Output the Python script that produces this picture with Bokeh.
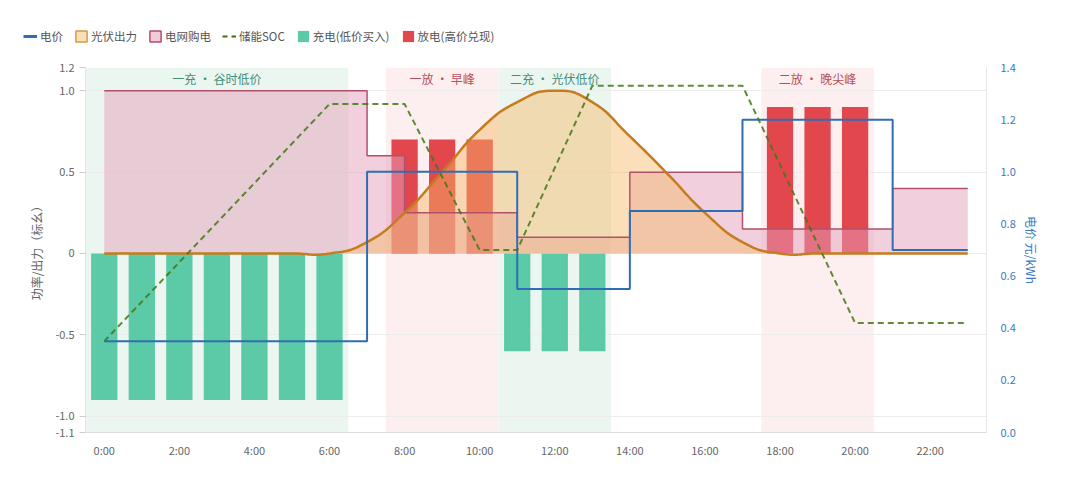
import numpy as np
from bokeh.plotting import figure
from bokeh.models import (Range1d, LinearAxis, FixedTicker, Legend, LegendItem,
                          NumeralTickFormatter)
from bokeh.embed import file_html
from bokeh.resources import INLINE
from bokeh.core.properties import value

FONT = "Noto Sans CJK SC"

# ---------------- data ----------------
hours = [0, 1, 2, 3, 4, 5, 6, 7, 8, 9, 10, 11, 12, 13, 14, 15, 16, 17, 18, 19, 20, 21, 22, 23]
x_tick_hours = [0, 2, 4, 6, 8, 10, 12, 14, 16, 18, 20, 22]
x_tick_labels = ["0:00", "2:00", "4:00", "6:00", "8:00", "10:00", "12:00",
                 "14:00", "16:00", "18:00", "20:00", "22:00"]

# electricity price (yuan/kWh), right axis
price = [0.35, 0.35, 0.35, 0.35, 0.35, 0.35, 0.35,
         1.0, 1.0, 1.0, 1.0,
         0.55, 0.55, 0.55,
         0.85, 0.85, 0.85,
         1.2, 1.2, 1.2, 1.2,
         0.70, 0.70, 0.70]

# grid purchase (p.u.)
grid_buy = [1.0, 1.0, 1.0, 1.0, 1.0, 1.0, 1.0,
            0.6,
            0.25, 0.25, 0.25,
            0.1, 0.1, 0.1,
            0.5, 0.5, 0.5,
            0.15, 0.15, 0.15, 0.15,
            0.4, 0.4, 0.4]

# PV output (p.u.)
pv_output = [0, 0, 0, 0, 0, 0, 0, 0.07, 0.25, 0.5, 0.76, 0.93, 1.0, 0.93,
             0.72, 0.49, 0.25, 0.07, 0, 0, 0, 0, 0, 0]

# battery charging (negative) / discharging (positive)
charge_hours = [0, 1, 2, 3, 4, 5, 6, 11, 12, 13]
charge_power = [-0.9, -0.9, -0.9, -0.9, -0.9, -0.9, -0.9, -0.6, -0.6, -0.6]
discharge_hours = [8, 9, 10, 18, 19, 20]
discharge_power = [0.7, 0.7, 0.7, 0.9, 0.9, 0.9]

# state of charge (%), hidden axis
soc_hours = [0, 6, 8, 10, 11, 13, 17, 20, 23]
soc_pct = [25, 90, 90, 50, 50, 95, 95, 30, 30]

# shaded periods
band_from = [0, 8, 11, 18]
band_to = [6, 10, 13, 20]
band_labels = ["一充 · 谷时低价", "一放 · 早峰", "二充 · 光伏低价", "二放 · 晚尖峰"]
band_kind = ["charge", "discharge", "charge", "discharge"]

left_ticks = [-1.1, -1.0, -0.5, 0, 0.5, 1.0, 1.143]
left_tick_labels = ["-1.1", "-1.0", "-0.5", "0", "0.5", "1.0", "1.2"]
price_ticks = [0.0, 0.2, 0.4, 0.6, 0.8, 1.0, 1.2, 1.4]

legend_labels = ["电价", "光伏出力", "电网购电", "储能SOC", "充电(低价买入)", "放电(高价兑现)"]

# ---------------- styles ----------------
C_PRICE = "#2f6db5"
C_PV_LINE = "#c47c1e"
C_PV_FILL = "#f3b865"
C_GRID_LINE = "#b0506b"
C_GRID_FILL = "#e3a0b9"
C_SOC = "#427815"
C_CHARGE = "#5cc9a7"
C_DISCHARGE = "#e3474e"
BAND_FILL = {"charge": "#ebf6f1", "discharge": "#fdefef"}
BAND_TEXT = {"charge": "#3f8f78", "discharge": "#b5505e"}

Y_MIN, Y_MAX = left_ticks[0], left_ticks[-1]


def smooth_path(xs, ys, k=0.25, steps=16):
    """Render helper: cubic Bezier smoothing through the given points
    (same idea as a 'smooth' line option)."""
    px, py = [], []
    n = len(xs)
    ts = np.linspace(0.0, 1.0, steps + 1)
    for i in range(n - 1):
        x0, y0 = xs[i], ys[i]
        x1, y1 = xs[i + 1], ys[i + 1]
        xp, yp = xs[max(i - 1, 0)], ys[max(i - 1, 0)]
        xn, yn = xs[min(i + 2, n - 1)], ys[min(i + 2, n - 1)]
        c0x, c0y = x0 + (x1 - xp) * k, y0 + (y1 - yp) * k
        c1x, c1y = x1 - (xn - x0) * k, y1 - (yn - y0) * k
        tt = ts if i == n - 2 else ts[:-1]
        for t in tt:
            a = (1 - t) ** 3
            b = 3 * (1 - t) ** 2 * t
            c = 3 * (1 - t) * t ** 2
            d = t ** 3
            px.append(a * x0 + b * c0x + c * c1x + d * x1)
            py.append(a * y0 + b * c0y + c * c1y + d * y1)
    return px, py


# ---------------- main chart ----------------
p = figure(width=1080, height=438,
           x_range=Range1d(-0.5, 23.5), y_range=Range1d(Y_MIN, Y_MAX),
           output_backend="svg", toolbar_location=None,
           min_border_left=85, min_border_right=94,
           min_border_top=19, min_border_bottom=54,
           background_fill_color="white", border_fill_color="white",
           outline_line_color=None)
p.extra_y_ranges = {"price": Range1d(0, 1.4), "soc": Range1d(0, 100)}

# bands
p.quad(left=[f - 0.5 for f in band_from], right=[t + 0.5 for t in band_to],
       bottom=Y_MIN, top=Y_MAX,
       fill_color=[BAND_FILL[k] for k in band_kind], line_color=None,
       level="underlay")
p.text(x=[(f + t) / 2 for f, t in zip(band_from, band_to)], y=1.075,
       text=band_labels, text_color=[BAND_TEXT[k] for k in band_kind],
       text_align="center", text_baseline="middle",
       text_font=value(FONT), text_font_size="12px")

# bars
p.vbar(x=charge_hours, top=charge_power, bottom=0, width=0.7,
       fill_color=C_CHARGE, line_color=None)
p.vbar(x=discharge_hours, top=discharge_power, bottom=0, width=0.7,
       fill_color=C_DISCHARGE, line_color=None)

# areas
p.varea_step(x=hours, y1=0, y2=grid_buy, step_mode="after",
             fill_color=C_GRID_FILL, fill_alpha=0.5)
sx, sy = smooth_path(hours, pv_output)
p.varea(x=sx, y1=0, y2=sy, fill_color=C_PV_FILL, fill_alpha=0.45)

# lines
p.step(hours, grid_buy, mode="after", line_color=C_GRID_LINE, line_width=1.5)
p.line(sx, sy, line_color=C_PV_LINE, line_width=2.5)
p.step(hours, price, mode="after", y_range_name="price",
       line_color=C_PRICE, line_width=2)
p.line(soc_hours, soc_pct, y_range_name="soc", line_color=C_SOC, line_alpha=0.85,
       line_width=2, line_dash="6 4")

# axes
p.xgrid.visible = False
lt = FixedTicker(ticks=left_ticks)
p.ygrid.ticker = lt
p.ygrid.grid_line_color = "#ececec"
p.ygrid.grid_line_width = 1

yax = p.left[0]
yax.ticker = lt
yax.major_label_overrides = dict(zip(left_ticks, left_tick_labels))
yax.axis_label = "功率/出力（标幺）"
yax.axis_label_text_font = FONT
yax.axis_label_text_font_style = "normal"
yax.axis_label_text_font_size = "12px"
yax.axis_label_text_color = "#666666"
yax.axis_label_standoff = 7
yax.major_label_text_font = FONT
yax.major_label_text_font_size = "11px"
yax.major_label_text_color = "#666666"
yax.major_label_standoff = 5
yax.axis_line_color = "#e3e6ea"
yax.major_tick_line_color = "#cccccc"
yax.major_tick_out = 6
yax.major_tick_in = 0
yax.minor_tick_line_color = None

xax = p.below[0]
xax.ticker = FixedTicker(ticks=x_tick_hours)
xax.major_label_overrides = dict(zip(x_tick_hours, x_tick_labels))
xax.major_label_text_font = FONT
xax.major_label_text_font_size = "11px"
xax.major_label_text_color = "#666666"
xax.major_label_standoff = 3
xax.axis_line_color = "#dddddd"
xax.major_tick_line_color = None
xax.minor_tick_line_color = None

ra = LinearAxis(y_range_name="price", ticker=FixedTicker(ticks=price_ticks),
                formatter=NumeralTickFormatter(format="0.0"))
ra.axis_label = "电价 元/kWh"
ra.axis_label_text_font = FONT
ra.axis_label_text_font_style = "normal"
ra.axis_label_text_font_size = "12px"
ra.axis_label_text_color = "#3a78c2"
ra.axis_label_standoff = 4
ra.major_label_text_font = FONT
ra.major_label_text_font_size = "11px"
ra.major_label_text_color = "#3a78c2"
ra.major_label_standoff = 8
ra.axis_line_color = "#e3e6ea"
ra.major_tick_line_color = None
ra.minor_tick_line_color = None
p.add_layout(ra, "right")

# ---------------- legend strip (separate root, no frame alignment) ----------------
lg = figure(width=1080, height=48, x_range=Range1d(0, 1), y_range=Range1d(0, 1),
            output_backend="svg", toolbar_location=None,
            x_axis_location=None, y_axis_location=None,
            min_border_left=0, min_border_right=0, min_border_top=0, min_border_bottom=0,
            background_fill_color="white", border_fill_color="white",
            outline_line_color=None)
lg.grid.visible = False
# legend proxies: one point each, placed outside the visible range
OUT = [5]
r_price = lg.line(x=OUT, y=OUT, line_color=C_PRICE, line_width=3)
r_pv = lg.rect(x=OUT, y=OUT, width=1, height=1, fill_color="#fbdfb6",
               line_color="#d49a4c", line_width=1.5)
r_grid = lg.rect(x=OUT, y=OUT, width=1, height=1, fill_color="#f2cad9",
                 line_color=C_GRID_LINE, line_width=1.5)
r_soc = lg.line(x=OUT, y=OUT, line_color="#3d6e12", line_width=2, line_dash="5 4")
r_chg = lg.rect(x=OUT, y=OUT, width=1, height=1, fill_color=C_CHARGE, line_color=None)
r_dis = lg.rect(x=OUT, y=OUT, width=1, height=1, fill_color=C_DISCHARGE, line_color=None)
legend = Legend(items=[LegendItem(label=t, renderers=[r]) for t, r in
                       zip(legend_labels, [r_price, r_pv, r_grid, r_soc, r_chg, r_dis])],
                orientation="horizontal", location=(23, 4),
                glyph_width=14, glyph_height=14, label_height=14, label_standoff=3,
                spacing=11, padding=0, margin=0,
                border_line_color=None, background_fill_alpha=0,
                label_text_font=FONT, label_text_font_size="11.5px",
                label_text_color="#555555")
lg.add_layout(legend)

open("out.html", "w").write(file_html([lg, p], INLINE))
